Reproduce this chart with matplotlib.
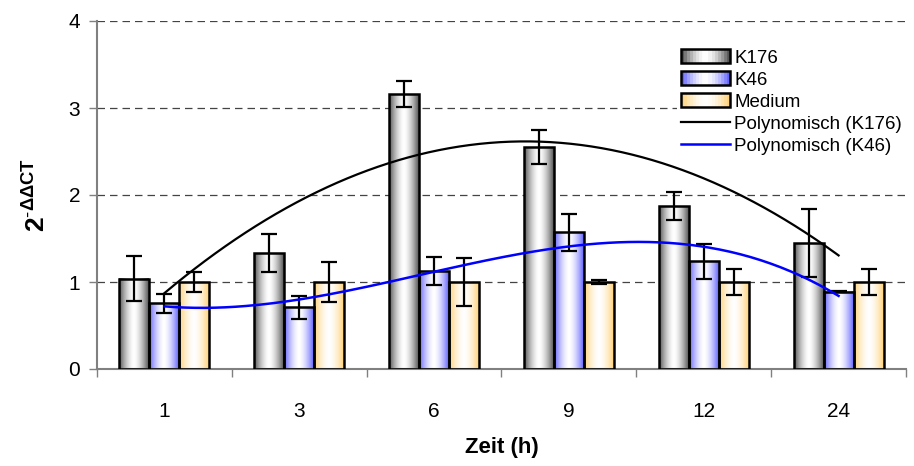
import numpy as np
import matplotlib
matplotlib.use("Agg")
from matplotlib import pyplot as plt
from matplotlib.colors import to_rgb
from matplotlib.patches import Rectangle
from matplotlib.lines import Line2D
from matplotlib.legend_handler import HandlerBase

plt.rcParams['font.family'] = ['Liberation Sans', 'DejaVu Sans']
plt.rcParams['mathtext.fontset'] = 'custom'
plt.rcParams['mathtext.rm'] = 'Liberation Sans'
plt.rcParams['mathtext.bf'] = 'Liberation Sans:bold'

zeiten = ["1", "3", "6", "9", "12", "24"]
k176 = [1.04, 1.33, 3.16, 2.55, 1.87, 1.445]
k176_err = [0.26, 0.22, 0.145, 0.195, 0.16, 0.39]
k46 = [0.755, 0.71, 1.126, 1.57, 1.24, 0.89]
k46_err = [0.11, 0.13, 0.165, 0.215, 0.20, 0.01]
medium = [1.0, 1.0, 1.0, 1.0, 1.0, 1.0]
medium_err = [0.12, 0.225, 0.28, 0.02, 0.155, 0.155]

serien = [("K176", k176, k176_err, "#555555"),
          ("K46", k46, k46_err, "#6464ff"),
          ("Medium", medium, medium_err, "#ffd27a")]


def gradient(edge, n=64):
    t = np.linspace(0, 1, n)
    w = 1 - np.abs(2 * t - 1) ** 1.6
    e = np.array(to_rgb(edge))
    return e[None, :] + (1 - e[None, :]) * w[:, None]


class GradientHandler(HandlerBase):
    def __init__(self, edge):
        super().__init__()
        self.edge = edge

    def create_artists(self, legend, orig_handle, xdescent, ydescent,
                       width, height, fontsize, trans):
        cols = gradient(self.edge, 16)
        n = len(cols)
        arts = []
        for i, c in enumerate(cols):
            r = Rectangle((-xdescent + width * i / n, -ydescent), width / n, height,
                          facecolor=c, edgecolor=c, lw=0.5, transform=trans)
            arts.append(r)
        arts.append(Rectangle((-xdescent, -ydescent), width, height, facecolor='none',
                              edgecolor='black', lw=1.8, transform=trans))
        return arts


fig = plt.figure(figsize=(9.14, 4.66), dpi=100)
ax = fig.add_axes([97 / 914, 1 - 369 / 466, 809 / 914, 348 / 466])

x = np.arange(len(zeiten))
breite = 30 / 135
for j, (name, werte, fehler, farbe) in enumerate(serien):
    pos = x + (j - 1) * breite
    img = gradient(farbe)[None, :, :]
    for p, v in zip(pos, werte):
        ax.imshow(img, extent=(p - breite / 2, p + breite / 2, 0, v), aspect='auto',
                  interpolation='bilinear', zorder=2)
    ax.bar(pos, werte, width=breite, facecolor='none', edgecolor='black', lw=1.8, zorder=3)
    ax.errorbar(pos, werte, yerr=fehler, fmt='none', ecolor='black', elinewidth=1.6,
                capsize=6, capthick=1.6, zorder=4)

# polynomial trendlines (Excel-style, x = 1..6)
xs = np.linspace(1, 6, 200)
c176 = np.polyfit(x + 1, k176, 2)
c46 = np.polyfit(x + 1, k46, 3)
ax.plot(xs - 1, np.polyval(c176, xs), color='black', lw=1.6, zorder=5)
ax.plot(xs - 1, np.polyval(c46, xs), color='#0000ff', lw=1.8, zorder=5)

ax.set_xlim(-0.5, len(zeiten) - 0.5)
ax.set_ylim(0, 4)
ax.set_yticks([0, 1, 2, 3, 4])
ax.yaxis.grid(True, linestyle=(0, (6, 4)), color='#444444', lw=0.9)
ax.set_axisbelow(True)
ax.set_xticks(x)
ax.set_xticklabels(zeiten)
ax.set_xticks(np.arange(len(zeiten) + 1) - 0.5, minor=True)
ax.tick_params(axis='x', which='major', length=0, pad=24, labelsize=15)
ax.tick_params(axis='x', which='minor', length=6, color='#808080', width=1)
ax.tick_params(axis='y', length=6, color='#808080', width=1, labelsize=15, pad=6)
for s in ['top', 'right']:
    ax.spines[s].set_visible(False)
for s in ['left', 'bottom']:
    ax.spines[s].set_color('#808080')
    ax.spines[s].set_linewidth(1.5)

ax.set_xlabel("Zeit (h)", fontsize=16, fontweight='bold', labelpad=11)
ax.set_ylabel(r"$\mathbf{2}^{\mathbf{\text{-}\Delta\Delta CT}}$", fontsize=19, labelpad=14)

handles = [Rectangle((0, 0), 1, 1) for _ in serien] + [
    Line2D([], [], color='black', lw=1.6), Line2D([], [], color='#0000ff', lw=1.8)]
labels = ["K176", "K46", "Medium", "Polynomisch (K176)", "Polynomisch (K46)"]
hmap = {handles[i]: GradientHandler(serien[i][3]) for i in range(3)}
leg = ax.legend(handles, labels, handler_map=hmap, loc='upper right',
                bbox_to_anchor=(1.0, 0.93), frameon=True, fancybox=False,
                facecolor='white', edgecolor='none', framealpha=1,
                fontsize=13.5, handlelength=2.6, handleheight=0.75,
                labelspacing=0.25, handletextpad=0.25, borderaxespad=0, borderpad=0.2)
leg.set_zorder(6)

fig.savefig("out.png", dpi=100)
